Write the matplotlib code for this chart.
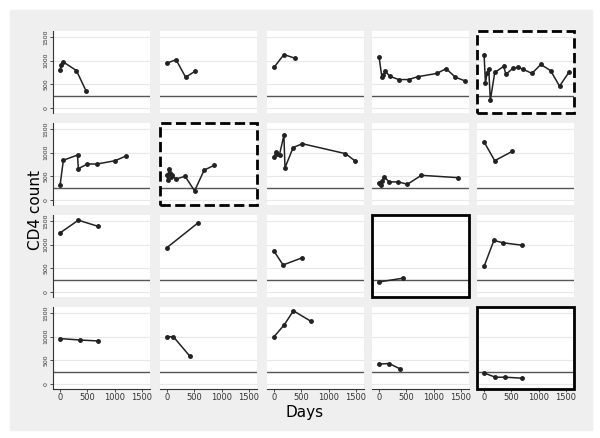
import matplotlib.pyplot as plt
from matplotlib.patches import Rectangle

# days / CD4 per patient, row by row
days = [
    [[0, 20, 50, 300, 480], [0, 165, 340, 520], [0, 180, 390],
     [0, 50, 80, 110, 195, 360, 540, 710, 1060, 1230, 1400, 1580],
     [0, 25, 55, 85, 115, 195, 360, 400, 530, 620, 710, 880, 1040, 1220, 1385, 1560]],
    [[0, 60, 320, 335, 500, 680, 1010, 1210],
     [0, 12, 30, 50, 70, 90, 165, 330, 505, 680, 860],
     [0, 30, 60, 100, 180, 200, 350, 520, 1310, 1480],
     [0, 12, 37, 55, 90, 185, 355, 520, 775, 1450],
     [0, 195, 520]],
    [[0, 335, 695], [0, 575], [0, 165, 510], [0, 445], [0, 180, 350, 690]],
    [[0, 360, 690], [0, 115, 415], [0, 185, 355, 670], [0, 185, 380], [0, 205, 390, 690]],
]
cd4 = [
    [[800, 900, 980, 790, 350], [950, 1020, 650, 780], [860, 1130, 1050],
     [1080, 660, 690, 780, 670, 600, 600, 660, 730, 830, 650, 570],
     [1130, 520, 740, 830, 160, 750, 880, 710, 840, 860, 820, 730, 920, 790, 460, 760]],
    [[310, 840, 950, 660, 760, 760, 830, 930],
     [520, 420, 660, 560, 490, 520, 440, 500, 190, 630, 730],
     [900, 1010, 980, 960, 1370, 680, 1110, 1190, 980, 830],
     [350, 360, 310, 390, 490, 380, 380, 330, 520, 470],
     [1230, 830, 1030]],
    [[1250, 1520, 1390], [940, 1470], [860, 570, 720], [210, 290], [540, 1090, 1040, 990]],
    [[960, 930, 910], [1000, 1000, 590], [1000, 1250, 1550, 1330], [420, 430, 320], [230, 140, 140, 120]],
]
dashed = [(0, 4), (1, 1)]
solid = [(2, 3), (3, 4)]
threshold = 250

W, H = 600, 438
fig = plt.figure(figsize=(6, 4.38), dpi=100)
fig.patches.append(Rectangle((10 / W, 1 - 430 / H), 582 / W, 420 / H,
                             transform=fig.transFigure, color='#efefef', zorder=-10))
col_x = [53, 160, 267, 372, 477]
row_y = [31, 123, 215, 307]
pw, ph = 97, 82

for r in range(4):
    for c in range(5):
        ax = fig.add_axes([col_x[c] / W, 1 - (row_y[r] + ph) / H, pw / W, ph / H])
        ax.set_xlim(-130, 1650)
        ax.set_ylim(-110, 1630)
        for g in [0, 500, 1000, 1500]:
            ax.axhline(g, color='#e8e8e8', lw=0.8, zorder=0)
        ax.axhline(threshold, color='#555555', lw=1.0, zorder=1)
        ax.plot(days[r][c], cd4[r][c], color='#222222', lw=1.1, marker='o', ms=2.5, zorder=3)
        for s in ax.spines.values():
            s.set_visible(False)
        ax.tick_params(length=2, width=0.6, pad=1, colors='#333333')
        ax.tick_params(axis='y', labelsize=4.5)
        ax.tick_params(axis='x', labelsize=6)
        ax.set_yticks([0, 500, 1000, 1500])
        ax.set_xticks([0, 500, 1000, 1500])
        if c == 0:
            ax.spines['left'].set_visible(True)
            ax.spines['left'].set_color('#333333')
            for lab in ax.get_yticklabels():
                lab.set_rotation(90)
                lab.set_va('center')
        else:
            ax.tick_params(left=False, labelleft=False)
        if r == 3:
            ax.spines['bottom'].set_visible(True)
            ax.spines['bottom'].set_color('#333333')
        else:
            ax.tick_params(bottom=False, labelbottom=False)
        if (r, c) in dashed or (r, c) in solid:
            ls = '--' if (r, c) in dashed else '-'
            ax.add_patch(Rectangle((0, 0), 1, 1, transform=ax.transAxes, fill=False,
                                   ec='black', lw=2, ls=ls, clip_on=False, zorder=5))

fig.text(35 / W, 1 - 210 / H, 'CD4 count', rotation=90, ha='center', va='center', fontsize=11)
fig.text(305 / W, 1 - 412 / H, 'Days', ha='center', va='center', fontsize=11)
fig.savefig('out.png', dpi=100)
